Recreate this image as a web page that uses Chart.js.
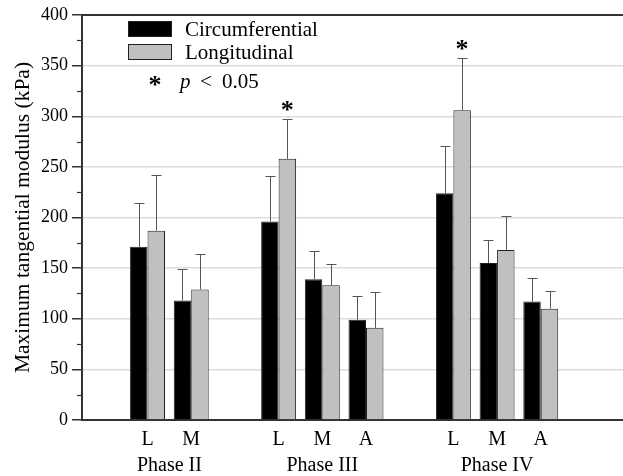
<!DOCTYPE html>
<html>
<head>
<meta charset="utf-8">
<script src="https://cdn.jsdelivr.net/npm/chart.js@4.4.0/dist/chart.umd.min.js"></script>
<style>
  html, body { margin: 0; padding: 0; background: #fff; overflow: hidden; }
  #wrap { width: 623px; height: 476px; overflow: hidden; position: relative; }
  #modChart { position: absolute; left: 0; top: 0; }
</style>
</head>
<body>
<div id="wrap"><canvas id="modChart" width="650" height="476"></canvas></div>
<script>
// sites along the x axis ('' = spacer slot between phases)
var sites = ['', 'L', 'M', '', 'L', 'M', 'A', '', 'L', 'M', 'A', '', ''];
var phases = ['Phase II', 'Phase III', 'Phase IV'];
var phaseSites = [[1, 2], [4, 6], [8, 10]];   // first/last site index of each phase

var circMean = [null, 171, 118, null, 196, 139, 99, null, 224, 155, 117, null, null];
var circSD   = [null,  43,  31, null,  45,  28, 23, null,  47,  23,  23, null, null];
var longMean = [null, 187, 129, null, 258, 133, 91, null, 306, 168, 110, null, null];
var longSD   = [null,  55,  35, null,  39,  21, 35, null,  52,  33,  17, null, null];
var sigFlags = [false, false, false, false, true, false, false, false, true, false, false, false, false];

var yTicks = [0, 50, 100, 150, 200, 250, 300, 350, 400];

var SERIF = '"Liberation Serif", "DejaVu Serif", serif';
var sdSets = [circSD, longSD];

/*----------------------------------------*/
/*  error bars, asterisks, legend, frame
/*----------------------------------------*/
var extras = {
  id: 'extras',
  afterDatasetsDraw: function (chart) {
    var ctx = chart.ctx;
    var y = chart.scales.y;
    var x = chart.scales.x;
    var area = chart.chartArea;
    ctx.save();

    // error bars (upper only)
    ctx.strokeStyle = '#555';
    ctx.lineWidth = 1;
    sdSets.forEach(function (sd, d) {
      var meta = chart.getDatasetMeta(d);
      var vals = chart.data.datasets[d].data;
      meta.data.forEach(function (bar, i) {
        if (sd[i] == null || vals[i] == null) return;
        var top = Math.round(y.getPixelForValue(vals[i] + sd[i])) + 0.5;
        var bx = Math.round(bar.x) + 0.5;
        ctx.beginPath();
        ctx.moveTo(bx, bar.y);
        ctx.lineTo(bx, top);
        ctx.moveTo(bx - 5, top);
        ctx.lineTo(bx + 5, top);
        ctx.stroke();
      });
    });

    // significance asterisks
    ctx.fillStyle = '#000';
    ctx.font = 'bold 26px ' + SERIF;
    ctx.textAlign = 'center';
    ctx.textBaseline = 'alphabetic';
    var lm = chart.getDatasetMeta(1);
    sigFlags.forEach(function (f, i) {
      if (!f) return;
      var top = y.getPixelForValue(longMean[i] + longSD[i]);
      ctx.fillText('*', lm.data[i].x, top - 1);
    });

    // top frame line
    ctx.strokeStyle = '#333';
    ctx.lineWidth = 2;
    ctx.beginPath();
    ctx.moveTo(area.left, area.top);
    ctx.lineTo(area.right, area.top);
    ctx.stroke();

    // minor y ticks
    ctx.lineWidth = 1.2;
    for (var v = 25; v < 400; v += 50) {
      var py = Math.round(y.getPixelForValue(v)) + 0.5;
      ctx.beginPath();
      ctx.moveTo(area.left - 5, py);
      ctx.lineTo(area.left, py);
      ctx.stroke();
    }

    // phase labels
    ctx.fillStyle = '#000';
    ctx.font = '20px ' + SERIF;
    ctx.textAlign = 'center';
    ctx.textBaseline = 'middle';
    phases.forEach(function (p, k) {
      var a = x.getPixelForValue(phaseSites[k][0]);
      var b = x.getPixelForValue(phaseSites[k][1]);
      ctx.fillText(p, (a + b) / 2, 466);
    });

    // legend
    var lx = area.left + 46;
    chart.data.datasets.forEach(function (ds, d) {
      var ly = 21 + d * 23;
      ctx.fillStyle = ds.backgroundColor;
      ctx.fillRect(lx, ly, 44, 16);
      ctx.strokeStyle = '#222';
      ctx.lineWidth = 1;
      ctx.strokeRect(lx + 0.5, ly + 0.5, 43, 15);
      ctx.fillStyle = '#000';
      ctx.font = '21px ' + SERIF;
      ctx.textAlign = 'left';
      ctx.fillText(ds.label, lx + 57, ly + 9);
    });
    ctx.font = 'bold 26px ' + SERIF;
    ctx.textAlign = 'center';
    ctx.textBaseline = 'alphabetic';
    ctx.fillText('*', lx + 27, 93);
    ctx.font = 'italic 21px ' + SERIF;
    ctx.textAlign = 'left';
    ctx.textBaseline = 'middle';
    ctx.fillText('p', lx + 52, 82);
    ctx.font = '21px ' + SERIF;
    ctx.fillText('<', lx + 72, 82);
    ctx.fillText('0.05', lx + 94, 82);

    ctx.restore();
  }
};

var ctx = document.getElementById('modChart');
var modChart = new Chart(ctx, {
  type: 'bar',
  data: {
    labels: sites,
    datasets: [{
      label: 'Circumferential',
      data: circMean,
      backgroundColor: '#000000',
      borderColor: '#222',
      borderWidth: 1
    }, {
      label: 'Longitudinal',
      data: longMean,
      backgroundColor: '#c0c0c0',
      borderColor: '#222',
      borderWidth: 1
    }]
  },
  options: {
    responsive: false,
    animation: false,
    layout: { padding: { top: 15, left: 0, right: 0, bottom: 0 } },
    plugins: {
      legend: { display: false },
      tooltip: { enabled: false }
    },
    datasets: {
      bar: { categoryPercentage: 0.8, barPercentage: 1.0 }
    },
    scales: {
      x: {
        offset: true,
        grid: { display: false, drawTicks: false },
        border: { color: '#333', width: 2 },
        ticks: {
          color: '#000',
          padding: 8,
          maxRotation: 0,
          autoSkip: false,
          font: { family: SERIF, size: 20 }
        },
        afterFit: function (s) { s.height = 56; }
      },
      y: {
        min: 0,
        max: 400,
        afterBuildTicks: function (s) {
          s.ticks = yTicks.map(function (v) { return { value: v }; });
        },
        grid: {
          color: function (c) { return c.tick && c.tick.value === 400 ? 'rgba(0,0,0,0)' : '#dcdcdc'; },
          tickColor: '#333',
          tickLength: 10,
          lineWidth: 1.5,
          drawOnChartArea: true
        },
        border: { color: '#333', width: 2 },
        ticks: {
          color: '#000',
          padding: 4,
          font: { family: SERIF, size: 18 }
        },
        title: {
          display: true,
          text: 'Maximum tangential modulus (kPa)',
          color: '#000',
          padding: { top: 10, bottom: 4 },
          font: { family: SERIF, size: 21.5 }
        },
        afterFit: function (s) { s.width = 82; }
      }
    }
  },
  plugins: [extras]
});
</script>
</body>
</html>
